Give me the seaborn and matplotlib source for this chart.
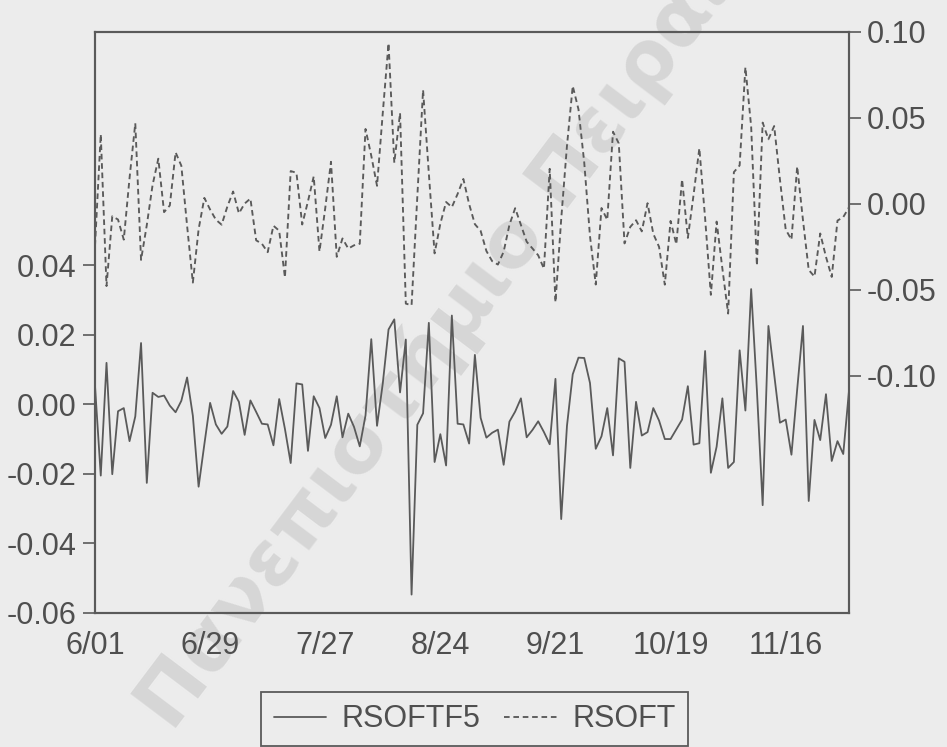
import numpy as np
import pandas as pd
import matplotlib
matplotlib.use("Agg")
import matplotlib.pyplot as plt
from matplotlib.lines import Line2D
from matplotlib.ticker import FixedLocator, FormatStrFormatter
import seaborn as sns

# Daily returns, business days from 1 June
rsoftf5 = [
    0.0053, -0.0205, 0.0119, -0.0201, -0.0020, -0.0011, -0.0106, -0.0035, 0.0176, -0.0226,
    0.0033, 0.0021, 0.0025, -0.0004, -0.0023, 0.0010, 0.0077, -0.0033, -0.0237, -0.0115,
    0.0004, -0.0058, -0.0085, -0.0064, 0.0038, 0.0007, -0.0088, 0.0011, -0.0022, -0.0056,
    -0.0058, -0.0118, 0.0015, -0.0071, -0.0169, 0.0060, 0.0057, -0.0134, 0.0023, -0.0011,
    -0.0097, -0.0059, 0.0023, -0.0095, -0.0027, -0.0065, -0.0121, -0.0032, 0.0187, -0.0062,
    0.0060, 0.0215, 0.0244, 0.0034, 0.0186, -0.0547, -0.0059, -0.0026, 0.0234, -0.0166,
    -0.0086, -0.0176, 0.0255, -0.0056, -0.0058, -0.0113, 0.0142, -0.0039, -0.0096, -0.0082,
    -0.0073, -0.0174, -0.0050, -0.0021, 0.0017, -0.0095, -0.0074, -0.0049, -0.0080, -0.0115,
    0.0073, -0.0330, -0.0062, 0.0086, 0.0134, 0.0133, 0.0061, -0.0128, -0.0092, -0.0011,
    -0.0147, 0.0132, 0.0122, -0.0183, 0.0007, -0.0090, -0.0080, -0.0011, -0.0047, -0.0100,
    -0.0100, -0.0072, -0.0044, 0.0052, -0.0116, -0.0112, 0.0153, -0.0197, -0.0122, 0.0017,
    -0.0183, -0.0166, 0.0155, -0.0018, 0.0331, 0.0040, -0.0290, 0.0225, 0.0087, -0.0053,
    -0.0044, -0.0145, 0.0043, 0.0225, -0.0278, -0.0045, -0.0103, 0.0029, -0.0163, -0.0106,
    -0.0143, 0.0039,
]

rsoft = [
    -0.0244, 0.0405, -0.0478, -0.0072, -0.0091, -0.0208, 0.0150, 0.0469, -0.0326, -0.0123,
    0.0109, 0.0263, -0.0048, -0.0009, 0.0300, 0.0222, -0.0127, -0.0458, -0.0148, 0.0035,
    -0.0033, -0.0092, -0.0121, -0.0015, 0.0072, -0.0055, 0.0002, 0.0031, -0.0212, -0.0232,
    -0.0281, -0.0127, -0.0156, -0.0428, 0.0191, 0.0181, -0.0120, 0.0015, 0.0160, -0.0277,
    -0.0025, 0.0245, -0.0308, -0.0201, -0.0260, -0.0241, -0.0232, 0.0436, 0.0280, 0.0105,
    0.0530, 0.0935, 0.0239, 0.0529, -0.0580, -0.0590, 0.0043, 0.0663, 0.0177, -0.0288,
    -0.0115, 0.0011, -0.0019, 0.0058, 0.0145, -0.0001, -0.0118, -0.0157, -0.0274, -0.0333,
    -0.0353, -0.0278, -0.0122, -0.0025, -0.0123, -0.0220, -0.0259, -0.0299, -0.0377, 0.0204,
    -0.0572, -0.0088, 0.0338, 0.0686, 0.0550, 0.0240, -0.0188, -0.0469, -0.0024, -0.0093,
    0.0420, 0.0352, -0.0230, -0.0134, -0.0095, -0.0160, 0.0004, -0.0174, -0.0250, -0.0470,
    -0.0099, -0.0235, 0.0143, -0.0198, 0.0054, 0.0324, -0.0083, -0.0529, -0.0103, -0.0376,
    -0.0638, 0.0185, 0.0224, 0.0795, 0.0450, -0.0359, 0.0473, 0.0376, 0.0453, 0.0142,
    -0.0149, -0.0208, 0.0218, -0.0093, -0.0384, -0.0423, -0.0172, -0.0308, -0.0425, -0.0097,
    -0.0077, -0.0020,
]

series_names = ["RSOFTF5", "RSOFT"]
left_ticks = [-0.06, -0.04, -0.02, 0.00, 0.02, 0.04]
right_ticks = [-0.10, -0.05, 0.00, 0.05, 0.10]
watermark = "Πανεπιστήμιο Πειραιώς"

dates = pd.bdate_range("1998-06-01", periods=len(rsoft))
obs = np.arange(len(rsoft))
df = pd.DataFrame({"obs": obs, "RSOFTF5": rsoftf5, "RSOFT": rsoft})

sns.set_style("white")
plt.rcParams["font.family"] = ["Liberation Sans", "DejaVu Sans"]
plt.rcParams["axes.unicode_minus"] = False

BG = "#ececec"
INK = "#4f4f4f"
LINE = "#5a5a5a"
FRAME = "#5a5a5a"
DASH = (0, (3.0, 2.0))

fig = plt.figure(figsize=(9.47, 7.47), dpi=100, facecolor=BG)
W, H = 947, 747
ax = fig.add_axes([95 / W, 1 - 613 / H, (849 - 95) / W, (613 - 32) / H])
ax.set_facecolor("none")
ax2 = ax.twinx()

sns.lineplot(data=df, x="obs", y="RSOFTF5", ax=ax, color=LINE, linewidth=1.3,
             legend=False)
sns.lineplot(data=df, x="obs", y="RSOFT", ax=ax2, color=LINE, linewidth=1.35,
             linestyle=DASH, legend=False)

ax.set_xlim(0, len(rsoft) - 1)
ax.set_ylim(-0.06, 0.107)
ax2.set_ylim(-0.238, 0.10)

# x axis: long ticks every 10 observations, labels every 20, minor every 2
major = list(range(0, len(rsoft), 10))
ax.xaxis.set_major_locator(FixedLocator(major))
ax.xaxis.set_minor_locator(FixedLocator(list(range(0, len(rsoft), 2))))
ax.set_xticklabels([f"{dates[i].month}/{dates[i].day:02d}" if i % 20 == 0 else ""
                    for i in major])

ax.yaxis.set_major_locator(FixedLocator(left_ticks))
ax.yaxis.set_major_formatter(FormatStrFormatter("%.2f"))
ax2.yaxis.set_major_locator(FixedLocator(right_ticks))
ax2.yaxis.set_major_formatter(FormatStrFormatter("%.2f"))

for a in (ax, ax2):
    a.set_xlabel("")
    a.set_ylabel("")
    for s in a.spines.values():
        s.set_color(FRAME)
        s.set_linewidth(1.5)

ax.tick_params(axis="x", which="major", direction="out", length=11, width=1.2,
               color=FRAME, labelcolor=INK, labelsize=22, pad=2)
ax.tick_params(axis="x", which="minor", direction="out", length=6, width=1.0,
               color=FRAME)
ax.tick_params(axis="y", direction="out", length=8.5, width=1.2, color=FRAME,
               labelcolor=INK, labelsize=22, pad=5)
ax2.tick_params(axis="y", direction="out", length=8.5, width=1.2, color=FRAME,
                labelcolor=INK, labelsize=22, pad=4)

handles = [Line2D([], [], color=LINE, linewidth=1.3),
           Line2D([], [], color=LINE, linewidth=1.35, linestyle=DASH)]
leg = fig.legend(handles, series_names, ncol=2, loc="upper center",
                 bbox_to_anchor=(474.5 / W, 1 - 692 / H), borderaxespad=0,
                 fontsize=22, frameon=True, fancybox=False, edgecolor=FRAME,
                 facecolor=BG, framealpha=1, handlelength=1.73,
                 handletextpad=0.49, columnspacing=0.78, borderpad=0.4,
                 labelcolor=INK)
leg.get_frame().set_linewidth(1.3)

# faint diagonal watermark behind the plot
fig.text(172 / W, 1 - 733 / H, watermark, rotation=53, rotation_mode="anchor",
         ha="left", va="baseline", fontsize=57, fontweight="bold",
         family="DejaVu Sans", color="#c8c8c8", alpha=0.6, zorder=-1)

fig.savefig("out.png", dpi=100, facecolor=BG)
